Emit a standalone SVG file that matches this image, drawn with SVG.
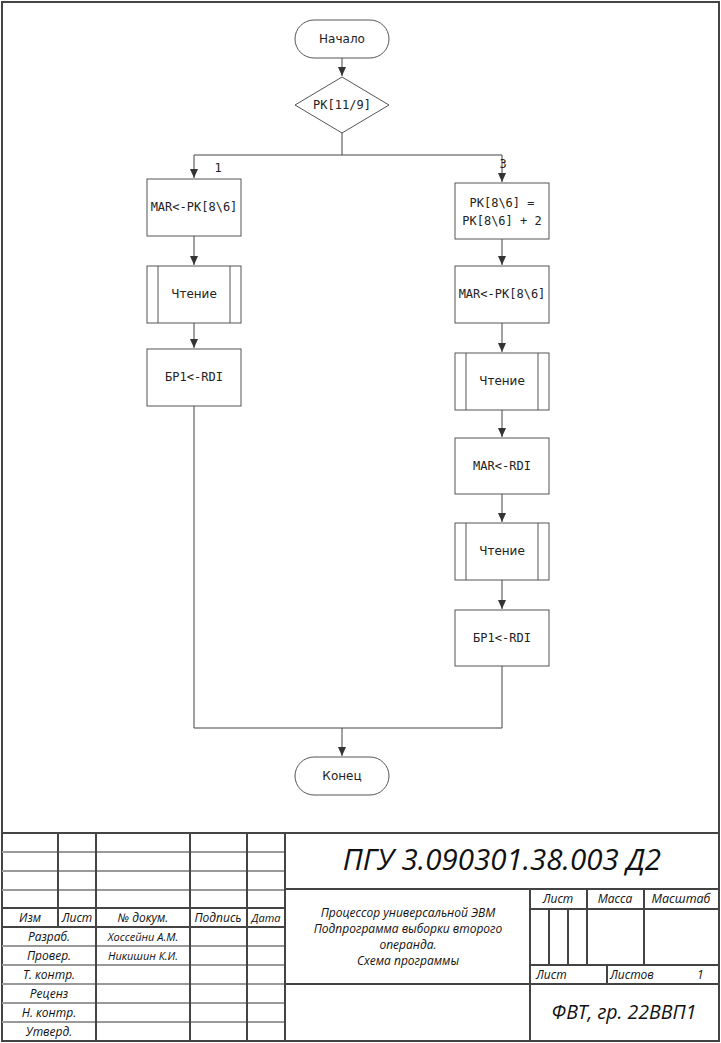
<svg xmlns="http://www.w3.org/2000/svg" width="721" height="1043" viewBox="0 0 721 1043">
<defs>
<marker id="arr" markerWidth="10" markerHeight="10" refX="9" refY="5" orient="auto" markerUnits="userSpaceOnUse">
<path d="M0,1 L9,5 L0,9 Z" fill="#333"/>
</marker>
<style>
.nd{fill:#fff;stroke:#555;stroke-width:1}
.cn{fill:none;stroke:#444;stroke-width:1}
.mono{font-family:"DejaVu Sans Mono","Liberation Mono",monospace;font-size:12px;fill:#222;text-anchor:middle}
.sans{font-family:"DejaVu Sans","Noto Sans",sans-serif;font-size:12px;fill:#222;text-anchor:middle}
.fr{fill:none;stroke:#444;stroke-width:2}
.rl{fill:none;stroke:#999;stroke-width:2}
.it{font-family:"Open Sans","Noto Sans",sans-serif;font-style:italic;fill:#111}
.c{text-anchor:middle}
</style>
</defs>
<rect x="0" y="0" width="721" height="1043" fill="#fff"/>
<g id="frame">
<rect class="fr" x="2" y="2" width="717" height="1039"/>
</g>
<g id="connectors">
<path class="cn" d="M342,58 V76" marker-end="url(#arr)"/>
<path class="cn" d="M342,133 V155 M194,155 H502"/>
<path class="cn" d="M194,155 V178" marker-end="url(#arr)"/>
<path class="cn" d="M502,155 V182" marker-end="url(#arr)"/>
<path class="cn" d="M194,236 V265" marker-end="url(#arr)"/>
<path class="cn" d="M194,323 V348" marker-end="url(#arr)"/>
<path class="cn" d="M502,239 V265" marker-end="url(#arr)"/>
<path class="cn" d="M502,323 V352" marker-end="url(#arr)"/>
<path class="cn" d="M502,410 V437" marker-end="url(#arr)"/>
<path class="cn" d="M502,494 V522" marker-end="url(#arr)"/>
<path class="cn" d="M502,580 V609" marker-end="url(#arr)"/>
<path class="cn" d="M194,406 V728 H502 M502,666 V728"/>
<path class="cn" d="M342,728 V756" marker-end="url(#arr)"/>
<text class="mono" x="218" y="172" font-size="11">1</text>
<text class="mono" x="503" y="168" font-size="11">3</text>
</g>
<g id="start">
<rect class="nd" x="295" y="20" width="94" height="38" rx="19"/>
<text class="sans" x="342" y="43">Начало</text>
</g>
<g id="decision">
<polygon class="nd" points="342,77 389,105 342,133 295,105"/>
<text class="mono" x="342" y="109">РК[11/9]</text>
</g>
<g id="l1">
<rect class="nd" x="147" y="179" width="94" height="57"/>
<text class="mono" x="194" y="211">MAR&lt;-РК[8\6]</text>
</g>
<g id="l2">
<rect class="nd" x="147" y="266" width="94" height="57"/>
<path class="nd" d="M158,266 V323 M230,266 V323"/>
<text class="sans" x="194" y="298">Чтение</text>
</g>
<g id="l3">
<rect class="nd" x="147" y="349" width="94" height="57"/>
<text class="mono" x="194" y="381">БР1&lt;-RDI</text>
</g>
<g id="r1">
<rect class="nd" x="455" y="183" width="94" height="56"/>
<text class="mono" x="502" y="207">РК[8\6] =</text>
<text class="mono" x="502" y="225">РК[8\6] + 2</text>
</g>
<g id="r2">
<rect class="nd" x="455" y="266" width="94" height="57"/>
<text class="mono" x="502" y="298">MAR&lt;-РК[8\6]</text>
</g>
<g id="r3">
<rect class="nd" x="455" y="353" width="94" height="57"/>
<path class="nd" d="M466,353 V410 M538,353 V410"/>
<text class="sans" x="502" y="385">Чтение</text>
</g>
<g id="r4">
<rect class="nd" x="455" y="438" width="94" height="56"/>
<text class="mono" x="502" y="470">MAR&lt;-RDI</text>
</g>
<g id="r5">
<rect class="nd" x="455" y="523" width="94" height="57"/>
<path class="nd" d="M466,523 V580 M538,523 V580"/>
<text class="sans" x="502" y="555">Чтение</text>
</g>
<g id="r6">
<rect class="nd" x="455" y="610" width="94" height="56"/>
<text class="mono" x="502" y="642">БР1&lt;-RDI</text>
</g>
<g id="end">
<rect class="nd" x="295" y="757" width="94" height="38" rx="19"/>
<text class="sans" x="342" y="780">Конец</text>
</g>
<g id="titleblock">
<path class="rl" d="M2,852 H285 M2,871 H285 M2,890 H285 M2,946 H285 M2,965 H285 M2,984 H285 M2,1003 H285 M2,1022 H285"/>
<path class="fr" d="M2,833 H719 M2,908 H285 M2,927 H285 M285,889 H719 M530,909 H719 M530,965 H719 M285,984 H719"/>
<path class="fr" d="M58,833 V927 M96,833 V1041 M190,833 V1041 M247,833 V1041 M285,833 V1041 M530,889 V1041 M549,909 V965 M568,909 V965 M587,889 V965 M644,889 V965 M607,965 V984"/>
<g class="it" font-size="12">
<text class="c" x="30" y="922">Изм</text>
<text class="c" x="77" y="922">Лист</text>
<text class="c" x="143" y="922">№ докум.</text>
<text class="c" x="218" y="922">Подпись</text>
<text class="c" x="266" y="922" font-size="11">Дата</text>
<text class="c" x="49" y="941">Разраб.</text>
<text class="c" x="49" y="960">Провер.</text>
<text class="c" x="49" y="979">Т. контр.</text>
<text class="c" x="49" y="998">Реценз</text>
<text class="c" x="49" y="1017">Н. контр.</text>
<text class="c" x="49" y="1036">Утверд.</text>
<text class="c" x="143" y="941" font-size="11">Хоссейни А.М.</text>
<text class="c" x="143" y="960" font-size="11">Никишин К.И.</text>
<text class="c" x="558" y="903">Лист</text>
<text class="c" x="615" y="903">Масса</text>
<text class="c" x="681" y="903" font-size="12.5">Масштаб</text>
<text x="536" y="979">Лист</text>
<text x="610" y="979">Листов</text>
<text x="697" y="979">1</text>
<text class="c" x="408" y="917">Процессор универсальной ЭВМ</text>
<text class="c" x="408" y="933">Подпрограмма выборки второго</text>
<text class="c" x="408" y="949">операнда.</text>
<text class="c" x="408" y="965">Схема программы</text>
</g>
<text class="it c" x="502" y="870" font-size="29.5">ПГУ 3.090301.38.003 Д2</text>
<text class="it c" x="624" y="1019" font-size="19.5">ФВТ, гр. 22ВВП1</text>
</g>
</svg>
